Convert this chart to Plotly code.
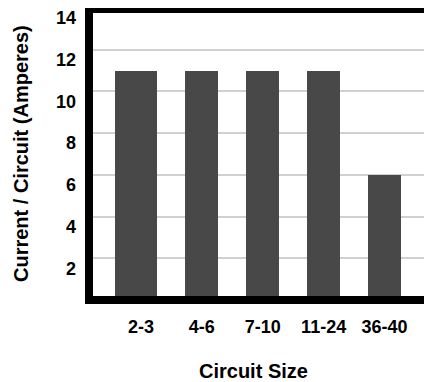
"""Current per circuit vs circuit size — bar chart."""
import plotly.graph_objects as go

# data
circuit_size = ["2-3", "4-6", "7-10", "11-24", "36-40"]
current_amps = [11, 11, 11, 11, 6]
y_ticks = [2, 4, 6, 8, 10, 12, 14]

# bar geometry (the first bar is drawn wider in the original)
bar_width = [0.69, 0.54, 0.54, 0.54, 0.54]
bar_offset = [-0.418, -0.27, -0.27, -0.27, -0.27]

FONT = "Liberation Sans, Arial, Helvetica, sans-serif"
BAR = "#484848"

# page body keeps an 8px margin, so the figure is 8px smaller than the window
W, H = 424, 374

fig = go.Figure()
fig.add_trace(go.Bar(
    x=circuit_size, y=current_amps,
    width=bar_width, offset=bar_offset,
    marker=dict(color=BAR, line=dict(width=0)),
    hovertemplate="Circuit Size: %{x}<br>Current: %{y} A<extra></extra>",
))

fig.update_xaxes(
    range=[-0.852, 4.779], automargin=False,
    showline=False, showgrid=False, ticks="", ticklabelstandoff=14,
    tickfont=dict(family=FONT, size=18, color="black", weight="bold"),
)
fig.update_yaxes(
    range=[0, 14], tickvals=y_ticks, automargin=False,
    showline=False, showgrid=True, gridcolor="#d0d0d0", gridwidth=2, zeroline=False,
    ticks="", ticklabelshift=10, ticklabelstandoff=12,
    tickfont=dict(family=FONT, size=18, color="black", weight="bold"),
)

# thick black frame around the plot
fig.add_shape(type="rect", xref="paper", yref="paper", x0=0, x1=1, y0=0, y1=0.9966,
              line=dict(color="black", width=8), layer="above")

fig.add_annotation(
    text="Current / Circuit (Amperes)", textangle=-90,
    xref="paper", yref="paper", x=0, y=0.5, xshift=-68, xanchor="center", yanchor="middle",
    showarrow=False, borderpad=0,
    font=dict(family=FONT, size=20, color="black", weight="bold"),
)
fig.add_annotation(
    text="Circuit Size",
    xref="paper", yref="paper", x=0.5, y=0, yshift=-71, xshift=-7,
    xanchor="center", yanchor="middle",
    showarrow=False, font=dict(family=FONT, size=20, color="black", weight="bold"),
)

fig.update_layout(
    width=W, height=H,
    margin=dict(l=80.5, r=0, t=0, b=82),
    paper_bgcolor="white", plot_bgcolor="white",
    showlegend=False, bargap=0,
)

fig.write_html("out.html")
